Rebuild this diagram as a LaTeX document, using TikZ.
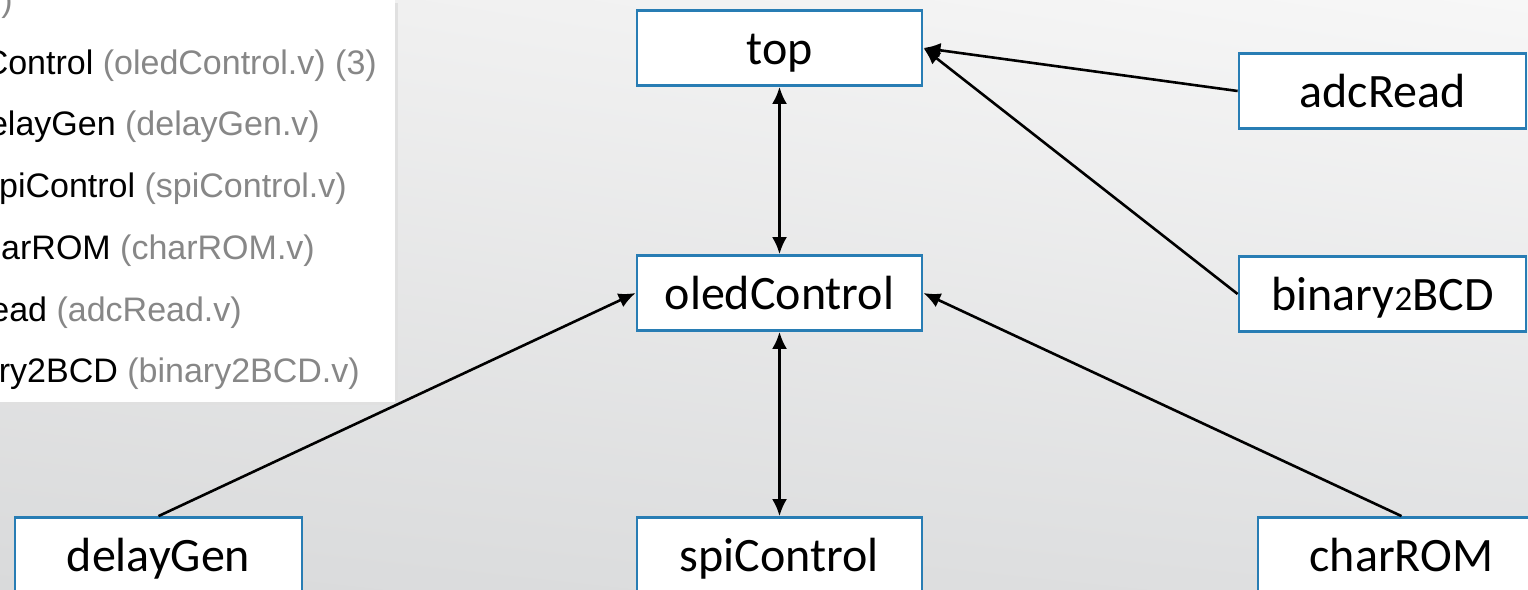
\documentclass[tikz,border=0pt]{standalone}
\usepackage{fontspec}
\setmainfont{Carlito}
\newfontfamily\listfont{Liberation Sans}
\usetikzlibrary{arrows.meta,shadings}
\definecolor{boxblue}{RGB}{40,125,180}
\definecolor{filegray}{RGB}{135,135,135}
\definecolor{bgul}{RGB}{238,238,238}
\definecolor{bgur}{RGB}{247,247,247}
\definecolor{bgll}{RGB}{217,218,219}
\definecolor{bglr}{RGB}{223,224,225}
\newcommand{\oldtwo}{{\fontsize{35}{35}\selectfont 2}}
\begin{document}
\begin{tikzpicture}[x=1pt,y=-1pt,
  modbox/.style={draw=boxblue, line width=2.8pt, fill=white, minimum width=285pt, minimum height=75pt, inner sep=0pt, font=\fontsize{48}{50}\selectfont, text height=36pt, text depth=4pt},
  conn/.style={line width=2.6pt, -{Latex[length=17pt,width=15pt]}},
  biconn/.style={line width=2.6pt, {Latex[length=17pt,width=15pt]}-{Latex[length=17pt,width=15pt]}},
  listitem/.style={anchor=base east, inner sep=0pt, font=\listfont\fontsize{34}{36}\selectfont}
]
\useasboundingbox (0,0) rectangle (1528,589);
\clip (0,0) rectangle (1528,589);
\shade[upper left=bgul, upper right=bgur, lower left=bgll, lower right=bglr]
  (0,0) rectangle (1528,589);
% list panel
\fill[black!12] (3,3) rectangle (398,405);
\fill[white] (-5,-5) rectangle (395,402);
\node[listitem] (l0) at (13,12) {\textcolor{filegray}{)}};
\node[listitem] (l1) at (377,74) {oledControl \textcolor{filegray}{(oledControl.v) (3)}};
\node[listitem] (l2) at (320,135.5) {delayGen \textcolor{filegray}{(delayGen.v)}};
\node[listitem] (l3) at (347,197) {spiControl \textcolor{filegray}{(spiControl.v)}};
\node[listitem] (l4) at (315,259) {charROM \textcolor{filegray}{(charROM.v)}};
\node[listitem] (l5) at (242,321) {adcRead \textcolor{filegray}{(adcRead.v)}};
\node[listitem] (l6) at (360,382) {binary2BCD \textcolor{filegray}{(binary2BCD.v)}};
% modules
\node[modbox] (top) at (779.5,48) {top};
\node[modbox] (oled) at (779.5,293) {oledControl};
\node[modbox, minimum width=287pt] (adc) at (1382.5,91) {adcRead};
\node[modbox, minimum width=287pt] (bcd) at (1382.5,294) {binary\oldtwo BCD};
\node[modbox, minimum width=287pt] (delay) at (158.5,555) {delayGen};
\node[modbox] (spi) at (779.5,555) {spiControl};
\node[modbox, minimum width=287pt] (rom) at (1401.5,555) {charROM};
% connectors
\draw[conn] (adc.west) -- (top.east);
\draw[conn] (bcd.west) -- (top.east);
\draw[biconn] (top.south) -- (oled.north);
\draw[biconn] (oled.south) -- (spi.north);
\draw[conn] (delay.north) -- (oled.west);
\draw[conn] (rom.north) -- (oled.east);
\end{tikzpicture}
\end{document}
